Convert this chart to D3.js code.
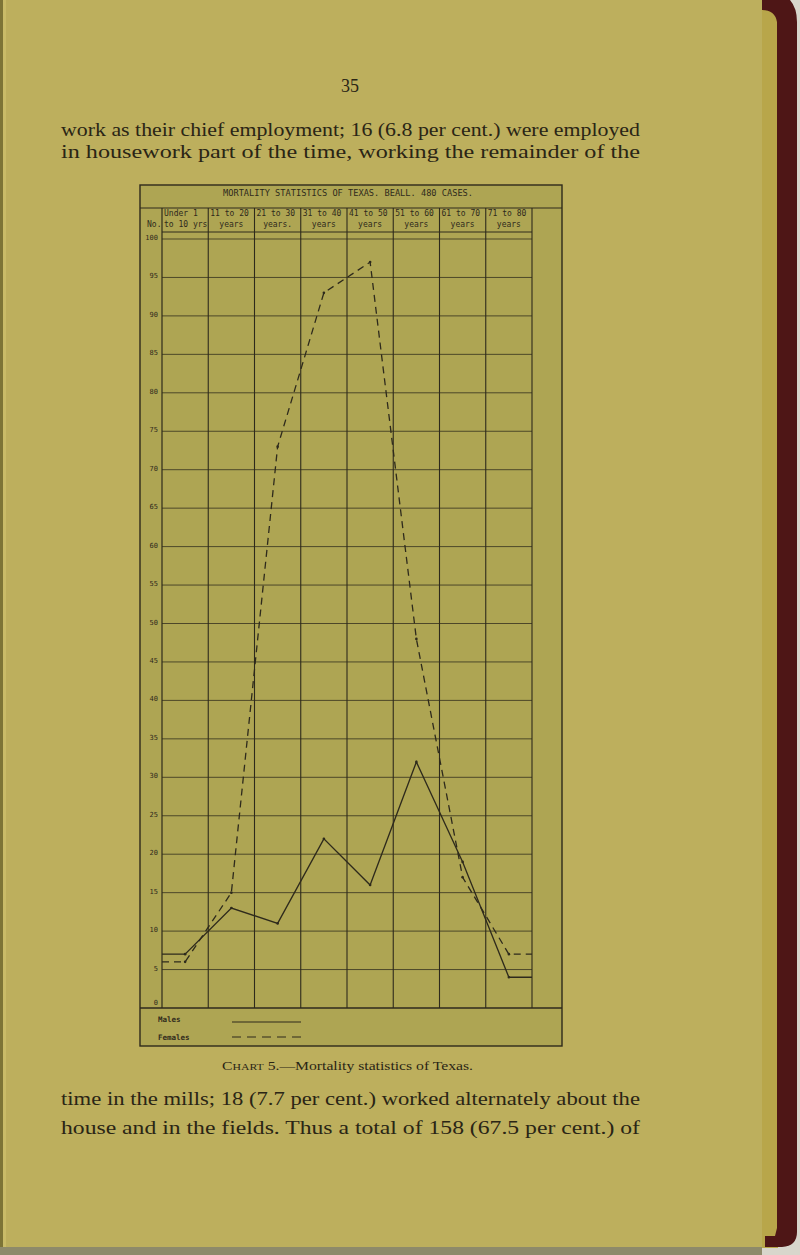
<!DOCTYPE html>
<html>
<head>
<meta charset="utf-8">
<script src="https://cdn.jsdelivr.net/npm/d3@7"></script>
<style>
html,body{margin:0;padding:0;background:#bcae5c;}
svg{display:block;}
</style>
</head>
<body>
<script>
// ---- data ----
const ageGroupsLine1 = ["Under 1", "11 to 20", "21 to 30", "31 to 40", "41 to 50", "51 to 60", "61 to 70", "71 to 80"];
const ageGroupsLine2 = ["to 10 yrs", "years", "years.", "years", "years", "years", "years", "years"];
const males   = [7, 13, 11, 22, 16, 32, 19, 4];
const females = [6, 15, 73, 93, 97, 48, 17, 7];
const yTicks  = [0, 5, 10, 15, 20, 25, 30, 35, 40, 45, 50, 55, 60, 65, 70, 75, 80, 85, 90, 95, 100];
const chartTitle = "MORTALITY STATISTICS OF TEXAS.  BEALL. 480 CASES.";
const legendLabels = ["Males", "Females"];
const pageNumber = "35";
const topLines = [
  "work as their chief employment; 16 (6.8 per cent.) were employed",
  "in housework part of the time, working the remainder of the"
];
const bottomLines = [
  "time in the mills; 18 (7.7 per cent.) worked alternately about the",
  "house and in the fields.  Thus a total of 158 (67.5 per cent.) of"
];

// ---- layout ----
const W = 800, H = 1255;
const box = {left: 140, right: 562, top: 185, titleBottom: 208, headBottom: 232, bottom: 1046};
const ink = "#2e2a1c";
const mono = "'DejaVu Sans Mono', 'Liberation Mono', monospace";
const serif = "'Liberation Serif', 'DejaVu Serif', serif";

const svg = d3.select("body").append("svg").attr("width", W).attr("height", H);

// page
svg.append("rect").attr("width", W).attr("height", H).attr("fill", "#bdaf5d");
// left dark edge
svg.append("rect").attr("x", 0).attr("y", 0).attr("width", 3).attr("height", H).attr("fill", "#7d7436");
svg.append("rect").attr("x", 3).attr("y", 0).attr("width", 3).attr("height", H).attr("fill", "#c9bb68");
// bottom strip
svg.append("rect").attr("x", 0).attr("y", 1247).attr("width", W).attr("height", 8).attr("fill", "#8e8a6a");
// right: page edges + binding
svg.append("rect").attr("x", 762).attr("y", 0).attr("width", 38).attr("height", H).attr("fill", "#d8d6cc");
svg.append("rect").attr("x", 762).attr("y", 8).attr("width", 16).attr("height", 1240).attr("fill", "#b8a64a");
svg.append("path")
  .attr("d", "M762,0 L790,0 Q797,8 797,22 L797,1232 Q797,1246 782,1247 L765,1247 L765,1236 L775,1236 L777,1228 L777,22 Q775,10 762,10 Z")
  .attr("fill", "#4e1616");

// chart interior
svg.append("rect").attr("x", box.left).attr("y", box.top)
  .attr("width", box.right - box.left).attr("height", box.bottom - box.top)
  .attr("fill", "#aea553");

// scales
const x = d3.scaleLinear().domain([0, 8]).range([162, 532]);
const y = d3.scaleLinear().domain([0, 100]).range([1008, 239]);

const g = svg.append("g").attr("stroke", ink).attr("fill", "none");

// outer box
g.append("rect").attr("x", box.left).attr("y", box.top)
  .attr("width", box.right - box.left).attr("height", box.bottom - box.top)
  .attr("stroke-width", 1.4);
// title separator
g.append("line").attr("x1", box.left).attr("x2", box.right)
  .attr("y1", box.titleBottom).attr("y2", box.titleBottom).attr("stroke-width", 1.1);
// header bottom line
g.append("line").attr("x1", x(0)).attr("x2", x(8))
  .attr("y1", box.headBottom).attr("y2", box.headBottom).attr("stroke-width", 1);
// legend top
g.append("line").attr("x1", box.left).attr("x2", box.right)
  .attr("y1", y(0)).attr("y2", y(0)).attr("stroke-width", 1.3);
// No. column separator
g.append("line").attr("x1", x(0)).attr("x2", x(0))
  .attr("y1", box.titleBottom).attr("y2", y(0)).attr("stroke-width", 1.2);

// horizontal grid
g.selectAll("line.h").data(yTicks.filter(d => d > 0)).join("line")
  .attr("class", "h")
  .attr("x1", x(0)).attr("x2", x(8))
  .attr("y1", d => y(d)).attr("y2", d => y(d))
  .attr("stroke-width", 0.9).attr("stroke-opacity", 0.85);

// vertical grid
g.selectAll("line.v").data(d3.range(1, 9)).join("line")
  .attr("class", "v")
  .attr("x1", d => x(d)).attr("x2", d => x(d))
  .attr("y1", box.titleBottom).attr("y2", y(0))
  .attr("stroke-width", 1.1);

// y tick labels
svg.append("g").selectAll("text").data(yTicks).join("text")
  .attr("x", 158).attr("y", d => y(d) + (d === 0 ? -3 : 1))
  .attr("text-anchor", "end")
  .attr("font-family", mono).attr("font-size", 7)
  .attr("fill", ink)
  .text(d => d);

// title
svg.append("text").attr("x", 348).attr("y", 196)
  .attr("text-anchor", "middle")
  .attr("font-family", mono).attr("font-size", 8)
  .attr("textLength", 250).attr("lengthAdjust", "spacingAndGlyphs")
  .attr("fill", ink).text(chartTitle);

// header
const head = svg.append("g").attr("font-family", mono).attr("font-size", 8).attr("fill", ink);
head.selectAll("text.l1").data(ageGroupsLine1).join("text")
  .attr("class", "l1")
  .attr("x", (d, i) => x(i) + 2).attr("y", 216).text(d => d);
head.selectAll("text.l2").data(ageGroupsLine2).join("text")
  .attr("class", "l2")
  .attr("x", (d, i) => i === 0 ? x(i) + 2 : (x(i) + x(i + 1)) / 2)
  .attr("text-anchor", (d, i) => i === 0 ? "start" : "middle")
  .attr("y", 227).text(d => d);
head.append("text").attr("x", 147).attr("y", 227).text("No.");

// lines
const pts = arr => [[0, arr[0]], ...arr.map((v, i) => [i + 0.5, v]), [8, arr[arr.length - 1]]];
const line = d3.line().x(d => x(d[0])).y(d => y(d[1]));

svg.append("path").datum(pts(males))
  .attr("d", line).attr("fill", "none").attr("stroke", ink).attr("stroke-width", 1.3);
svg.append("path").datum(pts(females))
  .attr("d", line).attr("fill", "none").attr("stroke", ink).attr("stroke-width", 1.3)
  .attr("stroke-dasharray", "7,5");

// vertex dots
[males, females].forEach(arr => {
  svg.append("g").selectAll("circle").data(arr).join("circle")
    .attr("cx", (d, i) => x(i + 0.5)).attr("cy", d => y(d)).attr("r", 1.3).attr("fill", ink);
});

// legend
const leg = svg.append("g").attr("font-family", mono).attr("font-size", 7.5).attr("fill", ink).attr("font-weight", "bold");
leg.append("text").attr("x", 158).attr("y", 1022).text(legendLabels[0]);
leg.append("text").attr("x", 158).attr("y", 1040).text(legendLabels[1]);
svg.append("line").attr("x1", 232).attr("x2", 301).attr("y1", 1022).attr("y2", 1022)
  .attr("stroke", ink).attr("stroke-width", 1.2);
svg.append("line").attr("x1", 232).attr("x2", 301).attr("y1", 1037).attr("y2", 1037)
  .attr("stroke", ink).attr("stroke-width", 1.2).attr("stroke-dasharray", "9,6");

// page text
const txt = svg.append("g").attr("font-family", serif).attr("fill", "#2a2515");
txt.append("text").attr("x", 350).attr("y", 92).attr("text-anchor", "middle")
  .attr("font-size", 18).text(pageNumber);
txt.selectAll("text.top").data(topLines).join("text")
  .attr("class", "top")
  .attr("x", 61).attr("y", (d, i) => 136 + i * 22)
  .attr("font-size", 19)
  .attr("textLength", 579).attr("lengthAdjust", "spacingAndGlyphs")
  .text(d => d);
txt.selectAll("text.bot").data(bottomLines).join("text")
  .attr("class", "bot")
  .attr("x", 61).attr("y", (d, i) => 1105 + i * 29)
  .attr("font-size", 19)
  .attr("textLength", 579).attr("lengthAdjust", "spacingAndGlyphs")
  .text(d => d);
// caption with small caps
const cap = txt.append("text").attr("x", 222).attr("y", 1070).attr("font-size", 12)
  .attr("textLength", 251).attr("lengthAdjust", "spacingAndGlyphs");
cap.append("tspan").text("C");
cap.append("tspan").attr("font-size", 9).text("HART");
cap.append("tspan").text(" 5.—Mortality statistics of Texas.");
</script>
</body>
</html>
